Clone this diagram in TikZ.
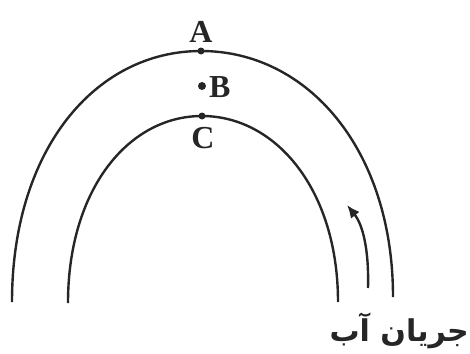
\documentclass[tikz,border=0pt]{standalone}
\usepackage{fontspec}
\setmainfont{Liberation Serif}
\newfontfamily\arabicfont[Script=Arabic]{DejaVu Sans}
\TeXXeTstate=1
\usetikzlibrary{arrows.meta}
\begin{document}
\begin{tikzpicture}[x=1pt,y=-1pt,
  arcline/.style={draw=black!85, line width=2.4pt},
  lbl/.style={font=\fontsize{32}{32}\selectfont\bfseries, text=black!85, inner sep=0pt},
  dotmark/.style={circle, fill=black!85, inner sep=0pt, minimum size=7pt}]
\useasboundingbox (0,0) rectangle (470,353);
% coordinates
\coordinate (oL) at (12,302);
\coordinate (oT) at (201,51);
\coordinate (oR) at (393,297);
\coordinate (iL) at (68,303);
\coordinate (iT) at (202,116);
\coordinate (iR) at (338,302);
% arcs
\draw[arcline] (oL) .. controls (12,150) and (95,51) .. (oT)
  .. controls (308,51) and (393,150) .. (oR);
\draw[arcline] (iL) .. controls (68,190) and (128,116) .. (iT)
  .. controls (276,116) and (338,190) .. (iR);
% points
\node[dotmark] (pA) at (oT) {};
\node[dotmark, minimum size=8pt] (pB) at (202,86) {};
\node[dotmark] (pC) at (iT) {};
% labels
\node[lbl, anchor=south] (A) at (201,43) {A};
\node[lbl, anchor=west] (B) at (209,87) {B};
\node[lbl, anchor=north] (C) at (203,127) {C};
% arrow
\coordinate (aS) at (368,288);
\coordinate (aE) at (347,205);
\draw[draw=black!85, line width=2.4pt, -{Latex[length=13pt,width=11pt]}] (aS) .. controls (369,250) and (363,225) .. (aE);
% water flow label
\node[inner sep=0pt, anchor=east, text=black!85] (W) at (469,331) {\arabicfont\bfseries\fontsize{30}{30}\selectfont\beginR جریان آب\endR};
\end{tikzpicture}
\end{document}
